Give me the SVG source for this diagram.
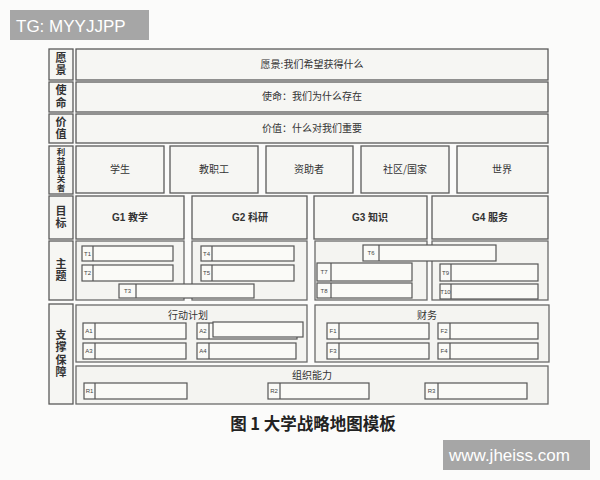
<svg xmlns="http://www.w3.org/2000/svg" width="600" height="480" viewBox="0 0 600 480">
<style>
.bg{fill:#fbfbfa}
.box{fill:#f6f6f3;stroke:#5a5a5a;stroke-width:1.3}
.pan{fill:#f4f4f1;stroke:#6a6a6a;stroke-width:1.3}
.it{fill:#fafaf7;stroke:#555;stroke-width:1.2}
.sep{stroke:#555;stroke-width:1.2}
.t{font-family:"Noto Sans CJK SC","Noto Sans",sans-serif;fill:#333;font-size:10px;text-anchor:middle}
.lab{font-family:"Noto Sans CJK SC",sans-serif;fill:#333;font-size:11px;text-anchor:middle;font-weight:bold;writing-mode:vertical-rl;letter-spacing:1.5px}
.g{font-family:"Liberation Sans","Noto Sans CJK SC",sans-serif;fill:#333;font-size:10px;text-anchor:middle;font-weight:bold}
.s{font-family:"Liberation Sans",sans-serif;fill:#444;font-size:6px;text-anchor:middle}
.wm{fill:#a6a6a6}
.wmt{font-family:"Liberation Sans",sans-serif;fill:#fff;font-size:17px}
</style>
<rect class="bg" x="0" y="0" width="600" height="480"/>
<rect class="wm" x="10" y="10" width="139" height="30"/>
<text class="wmt" x="16" y="32">TG: MYYJJPP</text>

<g id="labels">
<rect class="box" x="49" y="49" width="24" height="31"/>
<text class="lab" x="61" y="64.5">愿景</text>
<rect class="box" x="49" y="82" width="24" height="30"/>
<text class="lab" x="61" y="97">使命</text>
<rect class="box" x="49" y="114" width="24" height="29"/>
<text class="lab" x="61" y="128.5">价值</text>
<rect class="box" x="49" y="146" width="24" height="48"/>
<text class="lab" x="61" y="170" style="font-size:8.5px;letter-spacing:0.6px">利益相关者</text>
<rect class="box" x="49" y="196" width="24" height="43"/>
<text class="lab" x="61" y="217.5">目标</text>
<rect class="box" x="49" y="241" width="24" height="59"/>
<text class="lab" x="61" y="270.5">主题</text>
<rect class="box" x="49" y="304" width="24" height="100"/>
<text class="lab" x="61" y="354">支撑保障</text>
</g>

<g id="vision"><rect class="box" x="76" y="49" width="472" height="31"/><text class="t" x="312" y="68">愿景:我们希望获得什么</text></g>
<g id="mission"><rect class="box" x="76" y="82" width="472" height="30"/><text class="t" x="312" y="100">使命：我们为什么存在</text></g>
<g id="values"><rect class="box" x="76" y="114" width="472" height="29"/><text class="t" x="312" y="132">价值：什么对我们重要</text></g>

<g id="stakeholders">
<rect class="box" x="76" y="146" width="88" height="47"/><text class="t" x="120" y="173">学生</text>
<rect class="box" x="170" y="146" width="88" height="47"/><text class="t" x="214" y="173">教职工</text>
<rect class="box" x="266" y="146" width="87" height="47"/><text class="t" x="309" y="173">资助者</text>
<rect class="box" x="361" y="146" width="88" height="47"/><text class="t" x="405" y="173">社区/国家</text>
<rect class="box" x="457" y="146" width="91" height="47"/><text class="t" x="502" y="173">世界</text>
</g>

<g id="goals">
<rect class="box" x="76" y="196" width="108" height="43"/><text class="g" x="130" y="221">G1 教学</text>
<rect class="box" x="192" y="196" width="115" height="43"/><text class="g" x="250" y="221">G2 科研</text>
<rect class="box" x="314" y="196" width="113" height="43"/><text class="g" x="370" y="221">G3 知识</text>
<rect class="box" x="432" y="196" width="116" height="43"/><text class="g" x="490" y="221">G4 服务</text>
</g>

<g id="themes">
<rect class="pan" x="76" y="241" width="108" height="59"/>
<rect class="pan" x="192" y="241" width="115" height="59"/>
<rect class="pan" x="315" y="241" width="112" height="59"/>
<rect class="pan" x="432" y="241" width="116" height="59"/>
<rect class="it" x="82" y="246" width="91" height="15"/><line class="sep" x1="93" y1="246" x2="93" y2="261"/><text class="s" x="87.5" y="256">T1</text>
<rect class="it" x="82" y="265" width="91" height="16"/><line class="sep" x1="93" y1="265" x2="93" y2="281"/><text class="s" x="87.5" y="275">T2</text>
<rect class="it" x="119" y="284" width="135" height="14"/><line class="sep" x1="136" y1="284" x2="136" y2="298"/><text class="s" x="127.5" y="293">T3</text>
<rect class="it" x="201" y="246" width="93" height="15"/><line class="sep" x1="212" y1="246" x2="212" y2="261"/><text class="s" x="206.5" y="256">T4</text>
<rect class="it" x="201" y="265" width="93" height="16"/><line class="sep" x1="212" y1="265" x2="212" y2="281"/><text class="s" x="206.5" y="275">T5</text>
<rect class="it" x="363" y="245" width="133" height="16"/><line class="sep" x1="379" y1="245" x2="379" y2="261"/><text class="s" x="371" y="255">T6</text>
<rect class="it" x="317" y="263" width="95" height="18"/><line class="sep" x1="331" y1="263" x2="331" y2="281"/><text class="s" x="324" y="274">T7</text>
<rect class="it" x="317" y="283" width="95" height="15"/><line class="sep" x1="331" y1="283" x2="331" y2="298"/><text class="s" x="324" y="293">T8</text>
<rect class="it" x="440" y="264" width="98" height="17"/><line class="sep" x1="451" y1="264" x2="451" y2="281"/><text class="s" x="445.5" y="275">T9</text>
<rect class="it" x="440" y="284" width="98" height="15"/><line class="sep" x1="451" y1="284" x2="451" y2="299"/><text class="s" x="445.5" y="294">T10</text>
</g>

<g id="support">
<rect class="pan" x="76" y="305" width="231" height="57"/><text class="t" x="188" y="319">行动计划</text>
<rect class="it" x="83" y="323" width="103" height="16"/><line class="sep" x1="95" y1="323" x2="95" y2="339"/><text class="s" x="89" y="333">A1</text>
<rect class="it" x="197" y="323" width="100" height="16"/><line class="sep" x1="209" y1="323" x2="209" y2="339"/><text class="s" x="203" y="333">A2</text>
<rect class="it" x="213" y="322" width="90" height="15"/>
<rect class="it" x="83" y="343" width="103" height="16"/><line class="sep" x1="95" y1="343" x2="95" y2="359"/><text class="s" x="89" y="353">A3</text>
<rect class="it" x="197" y="343" width="99" height="16"/><line class="sep" x1="209" y1="343" x2="209" y2="359"/><text class="s" x="203" y="353">A4</text>

<rect class="pan" x="315" y="305" width="234" height="57"/><text class="t" x="427" y="319">财务</text>
<rect class="it" x="327" y="323" width="102" height="16"/><line class="sep" x1="339" y1="323" x2="339" y2="339"/><text class="s" x="333" y="333">F1</text>
<rect class="it" x="438" y="323" width="100" height="16"/><line class="sep" x1="450" y1="323" x2="450" y2="339"/><text class="s" x="444" y="333">F2</text>
<rect class="it" x="327" y="343" width="102" height="16"/><line class="sep" x1="339" y1="343" x2="339" y2="359"/><text class="s" x="333" y="353">F3</text>
<rect class="it" x="438" y="343" width="100" height="16"/><line class="sep" x1="450" y1="343" x2="450" y2="359"/><text class="s" x="444" y="353">F4</text>

<rect class="pan" x="76" y="366" width="472" height="38"/><text class="t" x="312" y="379">组织能力</text>
<rect class="it" x="84" y="383" width="103" height="16"/><line class="sep" x1="95" y1="383" x2="95" y2="399"/><text class="s" x="89.5" y="393">R1</text>
<rect class="it" x="268" y="383" width="101" height="16"/><line class="sep" x1="280" y1="383" x2="280" y2="399"/><text class="s" x="274" y="393">R2</text>
<rect class="it" x="425" y="383" width="102" height="16"/><line class="sep" x1="438" y1="383" x2="438" y2="399"/><text class="s" x="431.5" y="393">R3</text>
</g>

<text x="313" y="430" style="font-family:'Noto Sans CJK SC',serif;font-size:16.5px;fill:#222;text-anchor:middle;font-weight:bold">图 1 大学战略地图模板</text>

<rect class="wm" x="443" y="440" width="147" height="30"/>
<text class="wmt" x="449" y="461">www.jheiss.com</text>
</svg>
